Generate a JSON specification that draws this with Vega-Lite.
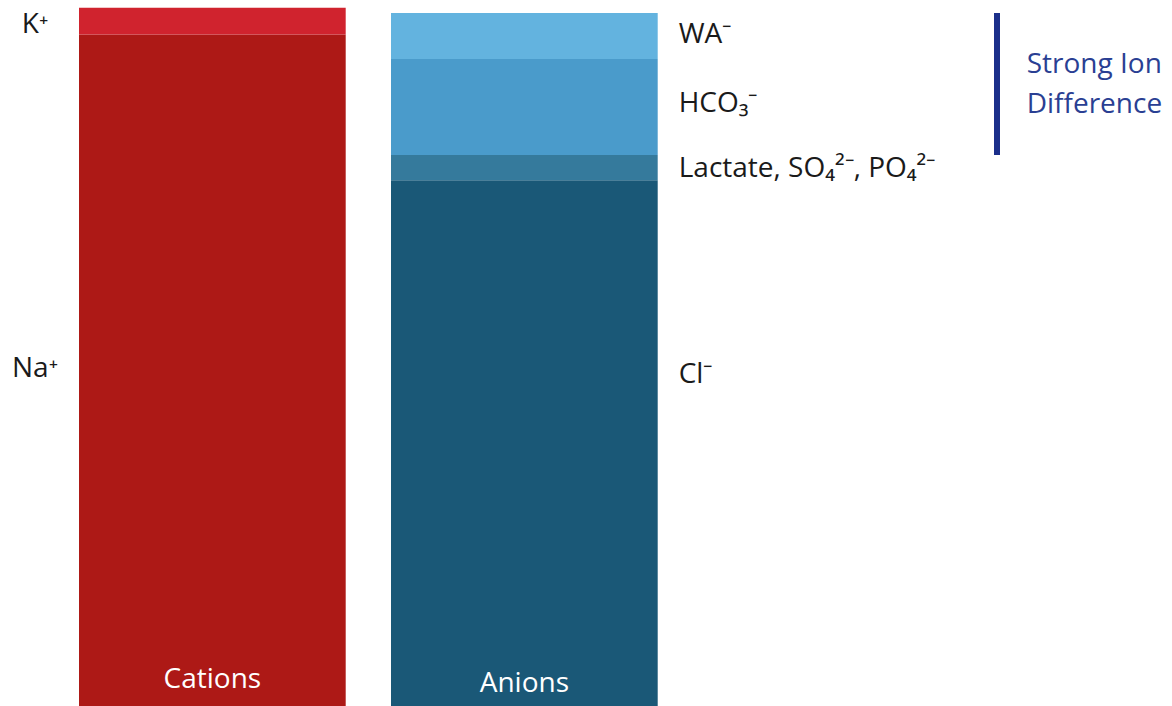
{
  "$schema": "https://vega.github.io/schema/vega-lite/v6.json",
  "autosize": {"type": "fit", "contains": "padding"},
  "width": 1172,
  "height": 706,
  "padding": 0,
  "background": "white",
  "config": {"view": {"stroke": null}, "text": {"font": "Open Sans"}},
  "datasets": {
    "ions": [
      {"side": "Cations", "ion": "Na+", "value": 140.0, "order": 1},
      {"side": "Cations", "ion": "K+", "value": 5.6, "order": 2},
      {"side": "Anions", "ion": "Cl-", "value": 109.6, "order": 1},
      {"side": "Anions", "ion": "Lactate", "value": 5.3, "order": 2},
      {"side": "Anions", "ion": "HCO3-", "value": 20.0, "order": 3},
      {"side": "Anions", "ion": "WA-", "value": 9.6, "order": 4}
    ],
    "leftLabels": [
      {"side": "Cations", "text": "K⁺", "y": 140.3},
      {"side": "Cations", "text": "Na⁺", "y": 68.5}
    ],
    "rightLabels": [
      {"side": "Anions", "text": "WA⁻", "y": 138.2},
      {"side": "Anions", "text": "HCO₃⁻", "y": 123.9},
      {"side": "Anions", "text": "Lactate, SO₄²⁻, PO₄²⁻", "y": 110.4},
      {"side": "Anions", "text": "Cl⁻", "y": 67.3}
    ],
    "barTitles": [
      {"side": "Cations", "text": "Cations", "y": 3.75},
      {"side": "Anions", "text": "Anions", "y": 2.9}
    ],
    "sid": [
      {"side": "Anions", "text": ["Strong Ion", "Difference"], "low": 114.9, "high": 144.5, "ty": 132.0}
    ]
  },
  "encoding": {
    "x": {
      "field": "side",
      "type": "nominal",
      "axis": null,
      "scale": {"domain": ["Cations", "Anions"], "paddingInner": 0.1452, "paddingOuter": 0.9508, "align": 0.13316}
    }
  },
  "layer": [
    {
      "data": {"name": "ions"},
      "mark": {"type": "bar"},
      "encoding": {
        "y": {"field": "value", "type": "quantitative", "stack": "zero", "axis": null, "scale": {"domain": [0, 147.2], "nice": false, "zero": true}},
        "order": {"field": "order", "type": "quantitative"},
        "color": {
          "field": "ion",
          "type": "nominal",
          "legend": null,
          "scale": {
            "domain": ["Na+", "K+", "Cl-", "Lactate", "HCO3-", "WA-"],
            "range": ["#ad1916", "#d0232e", "#1a5877", "#357a9c", "#4a9bcb", "#63b3df"]
          }
        }
      }
    },
    {
      "data": {"name": "leftLabels"},
      "mark": {"type": "text", "align": "center", "baseline": "alphabetic", "dx": -44, "fontSize": 28, "color": "#1a1a1a"},
      "encoding": {
        "x": {"field": "side", "type": "nominal", "bandPosition": 0},
        "y": {"field": "y", "type": "quantitative"},
        "text": {"field": "text"}
      }
    },
    {
      "data": {"name": "rightLabels"},
      "mark": {"type": "text", "align": "left", "baseline": "alphabetic", "dx": 21, "fontSize": 28, "color": "#1a1a1a"},
      "encoding": {
        "x": {"field": "side", "type": "nominal", "bandPosition": 1},
        "y": {"field": "y", "type": "quantitative"},
        "text": {"field": "text"}
      }
    },
    {
      "data": {"name": "barTitles"},
      "mark": {"type": "text", "align": "center", "baseline": "alphabetic", "fontSize": 28, "color": "white"},
      "encoding": {
        "x": {"field": "side", "type": "nominal", "bandPosition": 0.5},
        "y": {"field": "y", "type": "quantitative"},
        "text": {"field": "text"}
      }
    },
    {
      "data": {"name": "sid"},
      "mark": {"type": "rule", "strokeWidth": 6, "color": "#1b2f8a", "xOffset": 339.3},
      "encoding": {
        "x": {"field": "side", "type": "nominal", "bandPosition": 1},
        "y": {"field": "low", "type": "quantitative"},
        "y2": {"field": "high"}
      }
    },
    {
      "data": {"name": "sid"},
      "mark": {"type": "text", "align": "left", "baseline": "alphabetic", "dx": 369, "fontSize": 28, "lineHeight": 40, "color": "#2a3f93"},
      "encoding": {
        "x": {"field": "side", "type": "nominal", "bandPosition": 1},
        "y": {"field": "ty", "type": "quantitative"},
        "text": {"field": "text"}
      }
    }
  ]
}
